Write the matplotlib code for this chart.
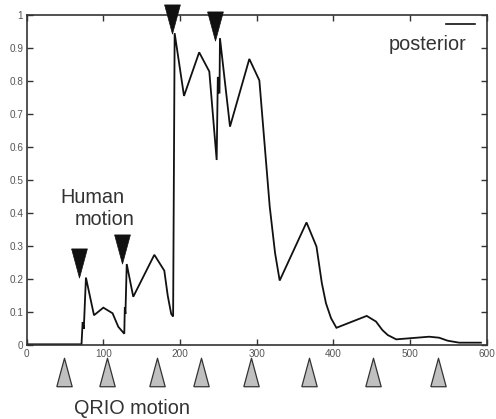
import matplotlib
matplotlib.use("Agg")
import matplotlib.pyplot as plt
from matplotlib.ticker import FixedLocator, FixedFormatter

plt.rcParams['font.family'] = ['Liberation Sans', 'DejaVu Sans']

# posterior curve (time, value)
t = [0, 71.5, 73, 74.5, 77.3, 87.8, 100, 112, 119.5, 127.3, 128, 128.8, 130.5, 139,
     166.5, 179.5, 184, 188.5, 191, 193, 205.2, 225, 238.2, 247.8, 249.3, 250.2,
     250.6, 251.5, 252.1, 265.2, 290.4, 303.5, 317, 324, 330, 365, 378, 385,
     390.4, 397, 404, 443.5, 455.6, 464, 471, 482, 525, 538, 549, 564, 592.5]
posterior = [0.003, 0.003, 0.07, 0.05, 0.205, 0.091, 0.114, 0.097, 0.056, 0.035, 0.115,
             0.095, 0.246, 0.147, 0.274, 0.226, 0.15, 0.095, 0.087, 0.945, 0.755,
             0.887, 0.829, 0.561, 0.81, 0.81, 0.765, 0.765, 0.93, 0.662, 0.867,
             0.802, 0.42, 0.279, 0.196, 0.372, 0.299, 0.188, 0.127, 0.082, 0.053,
             0.089, 0.072, 0.046, 0.031, 0.018, 0.026, 0.023, 0.014, 0.008, 0.008]

# human motion markers (time, marker height)
human_t = [67.8, 124, 189.8, 245.6]
human_y = [0.248, 0.292, 0.989, 0.968]

# QRIO motion markers (time)
qrio_t = [48.6, 105, 170, 227, 292.6, 367.8, 452, 537]
qrio_y = -0.080

xticks = [0, 100, 200, 300, 400, 500, 600]
yticks = [0, 0.1, 0.2, 0.3, 0.4, 0.5, 0.6, 0.7, 0.8, 0.9, 1]
ytick_labels = ['0', '0.1', '0.2', '0.3', '0.4', '0.5', '0.6', '0.7', '0.8', '0.9', '1']

fig = plt.figure(figsize=(4.96, 4.19), dpi=100)
ax = fig.add_axes([0.0538, 0.1759, 0.9274, 0.7883])

ax.plot(t, posterior, color='#111111', lw=1.3, solid_joinstyle='miter')

down_tri = [(-0.54, 1), (0.54, 1), (0, -1), (-0.54, 1)]
up_tri = [(-0.54, -1), (0.54, -1), (0, 1), (-0.54, -1)]

ax.plot(human_t, human_y, linestyle='none', marker=down_tri, markersize=21,
        markerfacecolor='#111111', markeredgecolor='#111111', markeredgewidth=0.5,
        clip_on=False, zorder=5)
ax.plot(qrio_t, [qrio_y] * len(qrio_t), linestyle='none', marker=up_tri, markersize=20.5,
        markerfacecolor='#c0c0c0', markeredgecolor='#333333', markeredgewidth=0.9,
        clip_on=False, zorder=5)

ax.set_xlim(0, 600)
ax.set_ylim(0, 1)
ax.xaxis.set_major_locator(FixedLocator(xticks))
ax.yaxis.set_major_locator(FixedLocator(yticks))
ax.yaxis.set_major_formatter(FixedFormatter(ytick_labels))
ax.tick_params(direction='in', length=4, width=1, top=True, right=True,
               labelsize=7.2, labelcolor='#555555', pad=2.5, color='#333333')
for s in ax.spines.values():
    s.set_linewidth(1.2)
    s.set_color('#333333')

# legend-like label
ax.plot([0.9115, 0.974], [0.973, 0.973], transform=ax.transAxes, color='#111111', lw=1.2)
ax.text(0.955, 0.895, 'posterior', transform=ax.transAxes, ha='right', va='baseline',
        fontsize=14.3, color='#333333')

fig.text(60 / 496, 1 - 203.3 / 419, 'Human', ha='left', va='baseline', fontsize=14.3, color='#333333')
fig.text(75 / 496, 1 - 225 / 419, 'motion', ha='left', va='baseline', fontsize=14.3, color='#333333')
fig.text(74 / 496, 1 - 414 / 419, 'QRIO motion', ha='left', va='baseline', fontsize=14.3, color='#333333')

fig.savefig('out.png', dpi=100)
